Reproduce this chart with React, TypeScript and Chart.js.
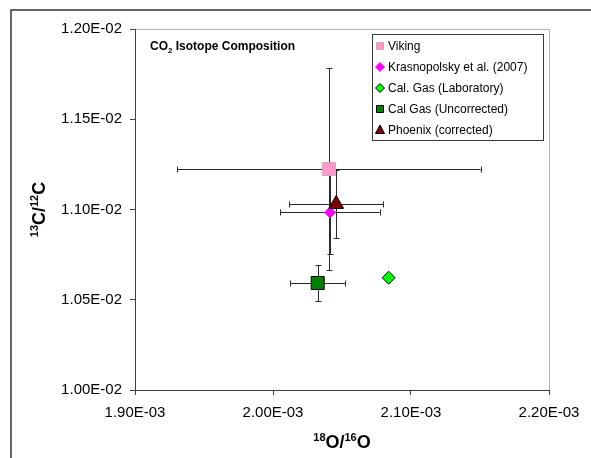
import React, { useEffect, useRef } from 'react';
import { Chart, registerables } from 'chart.js';

Chart.register(...registerables);

// ---- data ----
const seriesNames = [
  'Viking',
  'Krasnopolsky et al. (2007)',
  'Cal. Gas (Laboratory)',
  'Cal Gas (Uncorrected)',
  'Phoenix (corrected)',
];
const xValues = [2.0405e-3, 2.0413e-3, 2.0838e-3, 2.0324e-3, 2.0458e-3];
const yValues = [1.1224e-2, 1.0984e-2, 1.0622e-2, 1.0593e-2, 1.103e-2];
const xErrors = [1.1e-4, 3.6e-5, 0, 2.0e-5, 3.4e-5];
const yErrors = [5.6e-4, 2.3e-4, 0, 1.0e-4, 1.9e-4];
const xTickValues = [1.9e-3, 2.0e-3, 2.1e-3, 2.2e-3];
const xTickLabels = ['1.90E-03', '2.00E-03', '2.10E-03', '2.20E-03'];
const yTickValues = [1.0e-2, 1.05e-2, 1.1e-2, 1.15e-2, 1.2e-2];
const yTickLabels = ['1.00E-02', '1.05E-02', '1.10E-02', '1.15E-02', '1.20E-02'];

// ---- styles ----
const FONT = '"Liberation Sans", Arial, sans-serif';
const markerStyles = [
  { shape: 'rect', fill: '#FF9ACB', stroke: '#D8A2BE', r: 9.2 },
  { shape: 'rectRot', fill: '#FF00FF', stroke: '#FF00FF', r: 5.5 },
  { shape: 'rectRot', fill: '#00FF00', stroke: '#000000', r: 6.5 },
  { shape: 'rect', fill: '#008000', stroke: '#000000', r: 9.2 },
  { shape: 'triangle', fill: '#800000', stroke: '#000000', r: 8.6 },
];

type Run = { t: string; font: string; dy: number };

function drawRuns(ctx: CanvasRenderingContext2D, runs: Run[], x: number, y: number, align: 'left' | 'center') {
  let total = 0;
  runs.forEach((r) => {
    ctx.font = r.font;
    total += ctx.measureText(r.t).width;
  });
  let cx = align === 'center' ? x - total / 2 : x;
  ctx.textAlign = 'left';
  ctx.textBaseline = 'alphabetic';
  runs.forEach((r) => {
    ctx.font = r.font;
    ctx.fillText(r.t, cx, y + r.dy);
    cx += ctx.measureText(r.t).width;
  });
}

function legendMarker(ctx: CanvasRenderingContext2D, shape: string, x: number, y: number, fill: string, stroke: string) {
  ctx.beginPath();
  if (shape === 'rect') {
    ctx.rect(x - 3.5, y - 3.5, 7, 7);
  } else if (shape === 'rectRot') {
    const r = 4.5;
    ctx.moveTo(x - r, y);
    ctx.lineTo(x, y - r);
    ctx.lineTo(x + r, y);
    ctx.lineTo(x, y + r);
    ctx.closePath();
  } else {
    ctx.moveTo(x, y - 5);
    ctx.lineTo(x + 4.5, y + 3.5);
    ctx.lineTo(x - 4.5, y + 3.5);
    ctx.closePath();
  }
  ctx.fillStyle = fill;
  ctx.fill();
  ctx.strokeStyle = stroke;
  ctx.lineWidth = 1;
  ctx.stroke();
}

const decorPlugin = {
  id: 'decor',
  beforeDraw(chart: any) {
    const ctx = chart.ctx as CanvasRenderingContext2D;
    ctx.save();
    ctx.fillStyle = '#ffffff';
    ctx.fillRect(0, 0, chart.width, chart.height);
    // outer frame
    ctx.strokeStyle = '#333333';
    ctx.lineWidth = 1.5;
    ctx.beginPath();
    ctx.moveTo(11, chart.height + 2);
    ctx.lineTo(11, 10);
    ctx.lineTo(chart.width + 2, 10);
    ctx.stroke();
    // plot area top/right border
    const a = chart.chartArea;
    ctx.strokeStyle = '#b4b4b4';
    ctx.lineWidth = 1;
    ctx.beginPath();
    ctx.moveTo(a.left, a.top + 0.5);
    ctx.lineTo(a.right + 0.5, a.top + 0.5);
    ctx.lineTo(a.right + 0.5, a.bottom);
    ctx.stroke();
    ctx.restore();
  },
  beforeDatasetsDraw(chart: any) {
    const ctx = chart.ctx as CanvasRenderingContext2D;
    const xs = chart.scales.x;
    const ys = chart.scales.y;
    ctx.save();
    ctx.strokeStyle = '#2a2a2a';
    ctx.lineWidth = 1;
    const cap = 3;
    for (let i = 0; i < xValues.length; i++) {
      const px = xs.getPixelForValue(xValues[i]);
      const py = ys.getPixelForValue(yValues[i]);
      if (xErrors[i] > 0) {
        const l = xs.getPixelForValue(xValues[i] - xErrors[i]);
        const r = xs.getPixelForValue(xValues[i] + xErrors[i]);
        const yy = Math.round(py) + 0.5;
        ctx.beginPath();
        ctx.moveTo(l, yy);
        ctx.lineTo(r, yy);
        ctx.moveTo(Math.round(l) + 0.5, yy - cap);
        ctx.lineTo(Math.round(l) + 0.5, yy + cap);
        ctx.moveTo(Math.round(r) + 0.5, yy - cap);
        ctx.lineTo(Math.round(r) + 0.5, yy + cap);
        ctx.stroke();
      }
      if (yErrors[i] > 0) {
        const t = ys.getPixelForValue(yValues[i] + yErrors[i]);
        const b = ys.getPixelForValue(yValues[i] - yErrors[i]);
        const xx = Math.round(px) + 0.5;
        ctx.beginPath();
        ctx.moveTo(xx, t);
        ctx.lineTo(xx, b);
        ctx.moveTo(xx - cap, Math.round(t) + 0.5);
        ctx.lineTo(xx + cap, Math.round(t) + 0.5);
        ctx.moveTo(xx - cap, Math.round(b) + 0.5);
        ctx.lineTo(xx + cap, Math.round(b) + 0.5);
        ctx.stroke();
      }
    }
    ctx.restore();
  },
  afterDraw(chart: any) {
    const ctx = chart.ctx as CanvasRenderingContext2D;
    const a = chart.chartArea;
    ctx.save();
    ctx.fillStyle = '#000000';
    // chart title
    drawRuns(
      ctx,
      [
        { t: 'CO', font: `bold 12px ${FONT}`, dy: 0 },
        { t: '2', font: `bold 8px ${FONT}`, dy: 3 },
        { t: ' Isotope Composition', font: `bold 12px ${FONT}`, dy: 0 },
      ],
      150,
      50,
      'left'
    );
    // x axis title
    drawRuns(
      ctx,
      [
        { t: '18', font: `bold 11px ${FONT}`, dy: -7 },
        { t: 'O/', font: `bold 18px ${FONT}`, dy: 0 },
        { t: '16', font: `bold 11px ${FONT}`, dy: -7 },
        { t: 'O', font: `bold 18px ${FONT}`, dy: 0 },
      ],
      (a.left + a.right) / 2,
      448,
      'center'
    );
    // y axis title
    ctx.save();
    ctx.translate(45, (a.top + a.bottom) / 2);
    ctx.rotate(-Math.PI / 2);
    drawRuns(
      ctx,
      [
        { t: '13', font: `bold 11px ${FONT}`, dy: -7 },
        { t: 'C/', font: `bold 18px ${FONT}`, dy: 0 },
        { t: '12', font: `bold 11px ${FONT}`, dy: -7 },
        { t: 'C', font: `bold 18px ${FONT}`, dy: 0 },
      ],
      0,
      0,
      'center'
    );
    ctx.restore();
    // legend
    const lx = 372.5, ly = 34.5, lw = 171, lh = 106;
    ctx.fillStyle = '#ffffff';
    ctx.fillRect(lx, ly, lw, lh);
    ctx.strokeStyle = '#3a3a3a';
    ctx.lineWidth = 1;
    ctx.strokeRect(lx, ly, lw, lh);
    for (let i = 0; i < seriesNames.length; i++) {
      const cy = 46 + i * 21;
      const m = markerStyles[i];
      legendMarker(ctx, m.shape, 380, cy, m.fill, m.stroke);
      ctx.fillStyle = '#000000';
      ctx.font = `12px ${FONT}`;
      ctx.textAlign = 'left';
      ctx.textBaseline = 'middle';
      ctx.fillText(seriesNames[i], 388, cy + 0.5);
    }
    ctx.restore();
  },
};

export default function App() {
  const ref = useRef<HTMLCanvasElement | null>(null);
  useEffect(() => {
    if (!ref.current) return;
    const datasets = seriesNames.map((name, i) => ({
      label: name,
      data: [{ x: xValues[i], y: yValues[i] }],
      pointStyle: markerStyles[i].shape,
      pointRadius: markerStyles[i].r,
      pointBackgroundColor: markerStyles[i].fill,
      pointBorderColor: markerStyles[i].stroke,
      pointBorderWidth: 1,
      showLine: false,
      order: seriesNames.length - 1 - i,
    }));
    const tickFont = { family: FONT, size: 15 };
    const chart = new Chart(ref.current, {
      type: 'scatter',
      data: { datasets },
      options: {
        animation: false,
        responsive: false,
        layout: { padding: { left: 0, top: 29, right: 42, bottom: 0 } },
        plugins: { legend: { display: false }, tooltip: { enabled: false } },
        scales: {
          x: {
            type: 'linear',
            min: xTickValues[0],
            max: xTickValues[xTickValues.length - 1],
            afterBuildTicks: (s: any) => {
              s.ticks = xTickValues.map((v) => ({ value: v }));
            },
            afterFit: (s: any) => {
              s.height = 68;
            },
            ticks: {
              callback: (_v: any, idx: number) => xTickLabels[idx],
              font: tickFont,
              color: '#000000',
              padding: 9,
              maxRotation: 0,
              autoSkip: false,
            },
            grid: {
              drawOnChartArea: false,
              drawTicks: true,
              tickLength: 5,
              color: '#404040',
            },
            border: { display: true, color: '#404040', width: 1 },
          },
          y: {
            type: 'linear',
            min: yTickValues[0],
            max: yTickValues[yTickValues.length - 1],
            afterBuildTicks: (s: any) => {
              s.ticks = yTickValues.map((v) => ({ value: v }));
            },
            afterFit: (s: any) => {
              s.width = 135;
            },
            ticks: {
              callback: (_v: any, idx: number) => yTickLabels[idx],
              font: tickFont,
              color: '#000000',
              padding: 8,
              autoSkip: false,
            },
            grid: {
              drawOnChartArea: false,
              drawTicks: true,
              tickLength: 5,
              color: '#404040',
            },
            border: { display: true, color: '#404040', width: 1 },
          },
        },
      },
      plugins: [decorPlugin],
    } as any);
    return () => chart.destroy();
  }, []);
  return (
    <div style={{ position: 'fixed', left: 0, top: 0, width: 591, height: 458, background: '#fff' }}>
      <canvas ref={ref} width={591} height={458} style={{ display: 'block', width: 591, height: 458 }} />
    </div>
  );
}
